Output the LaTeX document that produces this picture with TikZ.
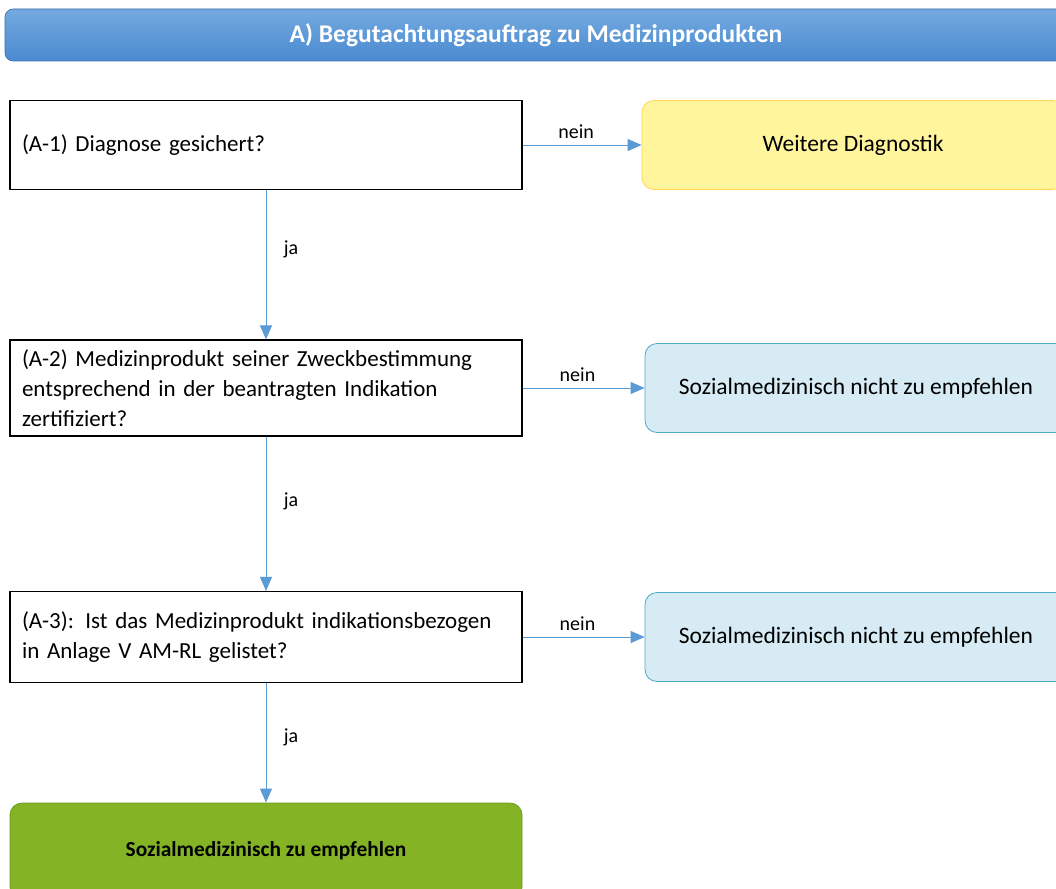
\documentclass[tikz,border=0pt]{standalone}
\usepackage{fontspec}
\setmainfont{Carlito}
\usetikzlibrary{positioning,arrows.meta}
\definecolor{headtop}{HTML}{74AAE0}
\definecolor{headbot}{HTML}{4A8AD0}
\definecolor{arrowblue}{HTML}{5B9BD5}
\definecolor{yellowfill}{HTML}{FFF59D}
\definecolor{yellowline}{HTML}{FFD54F}
\definecolor{bluefill}{HTML}{D6EBF3}
\definecolor{blueline}{HTML}{4BACC6}
\definecolor{greenfill}{HTML}{84B425}
\definecolor{greenline}{HTML}{6B9A1E}

\begin{document}
\begin{tikzpicture}[x=1pt, y=-1pt,
	q/.style={draw, line width=1.2pt, minimum height=89pt, text width=488pt, inner xsep=12pt, align=left, font=\fontsize{23}{30}\selectfont},
	res/.style={draw, line width=0.8pt, rounded corners=12pt, minimum width=422pt, minimum height=89pt, align=center, font=\fontsize{23.5}{28}\selectfont},
	head/.style={rounded corners=8pt, top color=headtop, bottom color=headbot, draw=headbot!80!black, line width=0.6pt, minimum width=1062pt, minimum height=52pt, text=white, font=\fontsize{25.5}{30}\selectfont\bfseries},
	lbl/.style={text=black, font=\fontsize{20}{24}\selectfont},
	flow/.style={color=arrowblue, line width=1pt, -{Triangle[length=14pt,width=12pt]}}]
	\useasboundingbox (0,0) rectangle (1056,888);
	\clip (0,0) rectangle (1056,888);
	\node[head] (T) at (536,35) {A) Begutachtungsauftrag zu Medizinprodukten};

	\node[q] (A1) at (266,145) {(A-1) Diagnose gesichert?};
	\node[q, minimum height=96pt] (A2) at (266,388) {(A-2) Medizinprodukt seiner Zweckbestimmung\\entsprechend in der beantragten Indikation\\zertifiziert?};
	\node[q, minimum height=91pt] (A3) at (266,637) {(A-3): Ist das Medizinprodukt indikationsbezogen\\in Anlage V AM-RL gelistet?};
	\node[res, fill=greenfill, draw=greenline, minimum width=512pt, minimum height=96pt, font=\fontsize{21.4}{26}\selectfont\bfseries] (G) at (266,851) {Sozialmedizinisch zu empfehlen};

	\node[res, fill=yellowfill, draw=yellowline] (W) at (853,145) {Weitere Diagnostik};
	\node[res, fill=bluefill, draw=blueline] (S1) at (856,388) {Sozialmedizinisch nicht zu empfehlen};
	\node[res, fill=bluefill, draw=blueline] (S2) at (856,637) {Sozialmedizinisch nicht zu empfehlen};

	\path[flow] (A1) edge node[lbl, above=3pt, pos=0.45] {nein} (W);
	\path[flow] (A2) edge node[lbl, above=3pt, pos=0.45] {nein} (S1);
	\path[flow] (A3) edge node[lbl, above=3pt, pos=0.45] {nein} (S2);
	\path[flow] (A1) edge node[lbl, right=14pt, pos=0.4] {ja} (A2);
	\path[flow] (A2) edge node[lbl, right=14pt, pos=0.42] {ja} (A3);
	\path[flow] (A3) edge node[lbl, right=14pt, pos=0.45] {ja} (G);
\end{tikzpicture}
\end{document}
